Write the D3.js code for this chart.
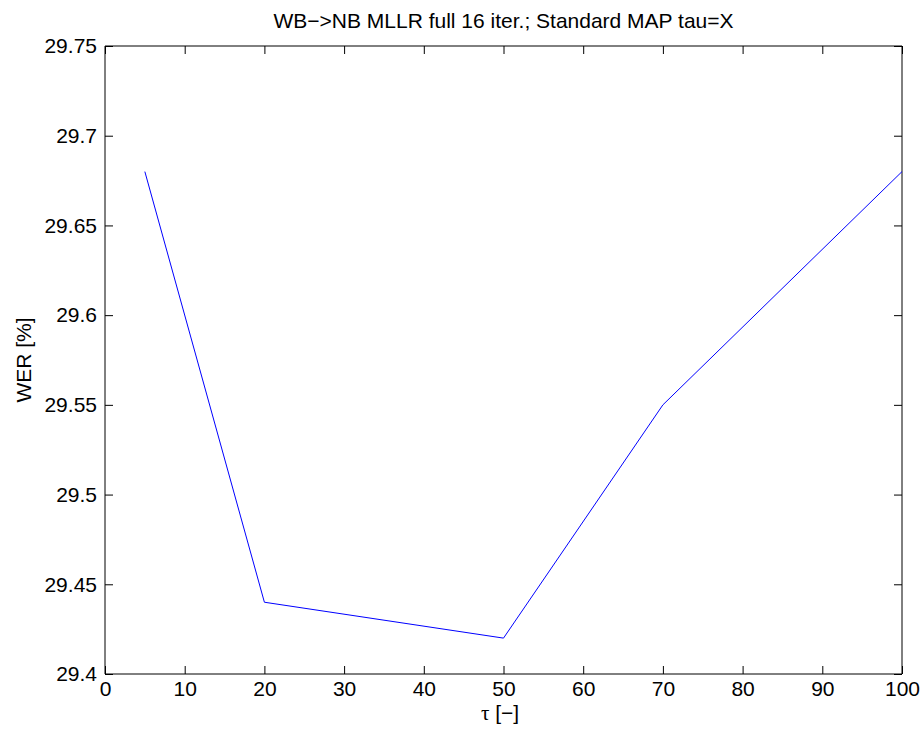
<!DOCTYPE html>
<html><head><meta charset="utf-8">
<script src="https://cdn.jsdelivr.net/npm/d3@7"></script>
<style>body{margin:0;background:#fff}svg{display:block}text{font-family:"Liberation Sans",Arial,Helvetica,sans-serif}</style>
</head><body>
<script>
const tauValues = [5, 20, 50, 70, 100];
const werValues = [29.68, 29.44, 29.42, 29.55, 29.68];
const xTicks = [0, 10, 20, 30, 40, 50, 60, 70, 80, 90, 100];
const yTicks = [29.4, 29.45, 29.5, 29.55, 29.6, 29.65, 29.7, 29.75];
const titleText = "WB\u2212>NB MLLR full 16 iter.; Standard MAP tau=X";

const W = 922, H = 731;
const m = {left: 105, right: 20, top: 46, bottom: 57};
const svg = d3.select("body").append("svg").attr("width", W).attr("height", H);
const x = d3.scaleLinear().domain([0, 100]).range([m.left, W - m.right]);
const y = d3.scaleLinear().domain([29.4, 29.75]).range([H - m.bottom, m.top]);
const fs = 21, tl = 8;

const g = svg.append("g");
const xb = g.append("g").attr("transform", `translate(0,${H - m.bottom})`)
  .call(d3.axisBottom(x).tickValues(xTicks).tickSize(-tl).tickPadding(7).tickFormat(d3.format("d")));
const xt = g.append("g").attr("transform", `translate(0,${m.top})`)
  .call(d3.axisTop(x).tickValues(xTicks).tickSize(-tl).tickFormat(""));
const yl = g.append("g").attr("transform", `translate(${m.left},0)`)
  .call(d3.axisLeft(y).tickValues(yTicks).tickSize(-tl).tickPadding(8).tickFormat(d => String(+d.toFixed(2))));
const yr = g.append("g").attr("transform", `translate(${W - m.right},0)`)
  .call(d3.axisRight(y).tickValues(yTicks).tickSize(-tl).tickFormat(""));
[xb, xt, yl, yr].forEach(a => {
  a.selectAll(".domain").attr("stroke", "#000").attr("stroke-width", 1);
  a.selectAll(".tick line").attr("stroke", "#000");
  a.selectAll("text").attr("font-size", fs).attr("fill", "#000").attr("font-family", '"Liberation Sans",Arial,sans-serif');
});
xb.select(".domain").attr("d", `M${m.left},0H${W - m.right}`);
xt.select(".domain").attr("d", `M${m.left},0H${W - m.right}`);
yl.select(".domain").attr("d", `M0,${m.top}V${H - m.bottom}`);
yr.select(".domain").attr("d", `M0,${m.top}V${H - m.bottom}`);

const line = d3.line().x((d, i) => x(tauValues[i])).y(d => y(d));
svg.append("path").datum(werValues).attr("d", line).attr("fill", "none").attr("stroke", "#0000ff").attr("stroke-width", 1);

svg.append("text").attr("x", (m.left + W - m.right) / 2).attr("y", 28).attr("text-anchor", "middle")
  .attr("font-size", fs).text(titleText);
const xl = svg.append("text").attr("x", 500).attr("y", 720).attr("text-anchor", "middle").attr("font-size", fs);
xl.append("tspan").attr("font-family", '"Liberation Serif","DejaVu Serif",serif').text("\u03c4");
xl.append("tspan").text(" [\u2212]");
svg.append("text").attr("transform", `translate(31,${(m.top + H - m.bottom) / 2}) rotate(-90)`).attr("text-anchor", "middle")
  .attr("font-size", fs).text("WER [%]");
</script>
</body></html>
